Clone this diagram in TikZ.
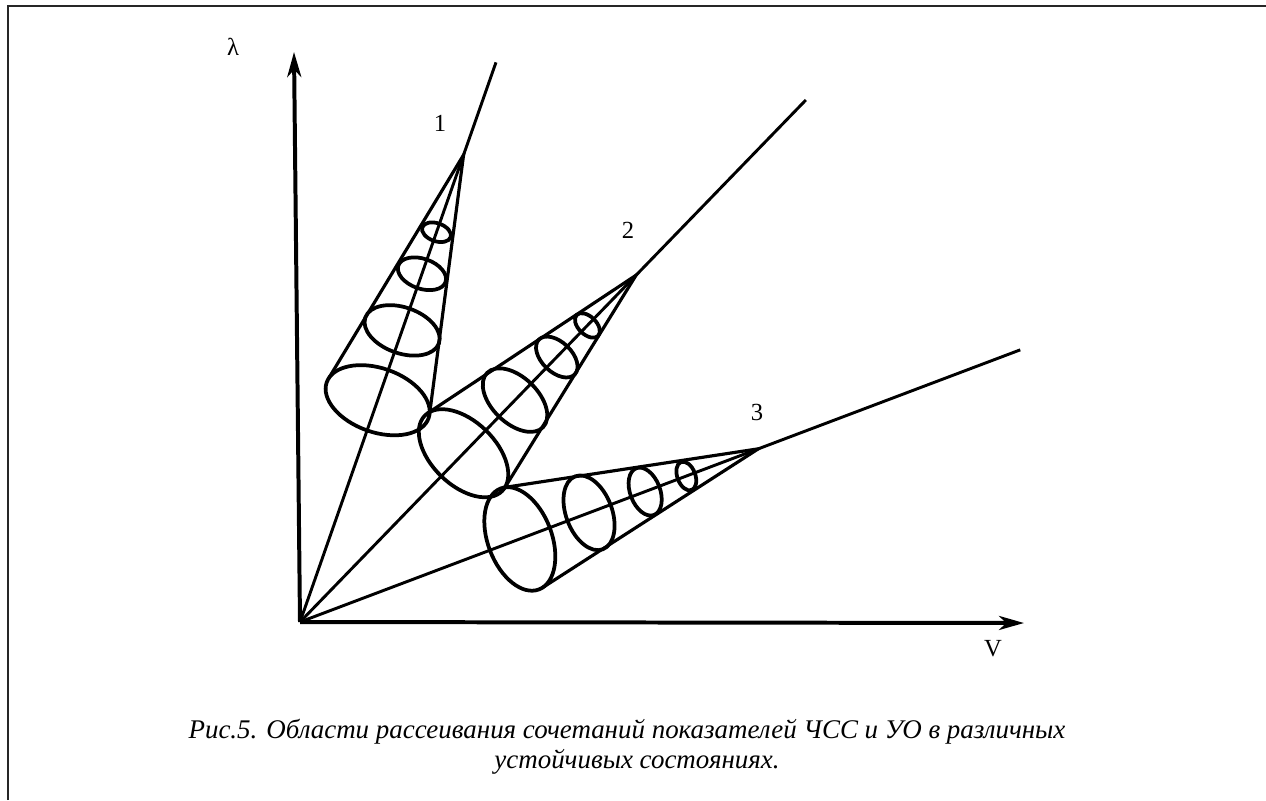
\documentclass[tikz,border=0pt]{standalone}
\usepackage{fontspec}
\setmainfont{Liberation Serif}
\usetikzlibrary{arrows.meta}

\begin{document}
\begin{tikzpicture}[x=0.03cm, y=-0.03cm,
    axisline/.style={line width=3.4pt, -{Stealth[length=0.75cm, width=0.42cm, inset=0.22cm]}},
    ray/.style={line width=2.5pt},
    oval/.style={line width=3.2pt},
    side/.style={line width=2.7pt},
    lbl/.style={font=\fontsize{21}{25}\selectfont},
    captext/.style={font=\itshape\fontsize{23}{27}\selectfont, anchor=base},
    frameline/.style={line width=1.8pt, black!85}]
  \useasboundingbox (0,0) rectangle (1266,800);
  \draw[frameline] (8,800) -- (8,6) -- (1266,6);
  % axes
  \coordinate (O) at (300,622);
  \coordinate (ytip) at (294,52);
  \coordinate (xtip) at (1024,623);
  \draw[axisline] (O) -- (ytip);
  \draw[axisline] (O) -- (xtip);
  \node[lbl] (lam) at (233,47) {λ};
  \node[lbl] (vlab) at (993,649) {V};
  % the three cones, each along its own ray from O
  \foreach \ang/\len/\top/\k in {70.7/593/495/1, 45.9/727/483/2, 20.7/770/490/3} {
    \begin{scope}[shift={(O)}, rotate=\ang]
      \coordinate (r\k) at (\len,0);
      \coordinate (a\k) at (\top,0);
      \coordinate (ta\k) at (239,53.6);
      \coordinate (tb\k) at (239,-53.6);
      \draw[ray] (O) -- (r\k);
      \foreach \c/\a/\b in {413/15/9, 369/25/15, 309/39/23, 235/54/32}
        \draw[oval] (\c,0) ellipse [x radius=\b, y radius=\a];
      \draw[side] (ta\k) -- (a\k) -- (tb\k);
    \end{scope}
  }
  \node[lbl] (n1) at (440,123) {1};
  \node[lbl] (n2) at (628,230) {2};
  \node[lbl] (n3) at (757,412) {3};
  % caption
  \node[captext] (cap1) at (627,738) {Рис.5. Области рассеивания сочетаний показателей ЧСС и УО в различных};
  \node[captext] (cap2) at (637,768) {устойчивых состояниях.};
\end{tikzpicture}
\end{document}
